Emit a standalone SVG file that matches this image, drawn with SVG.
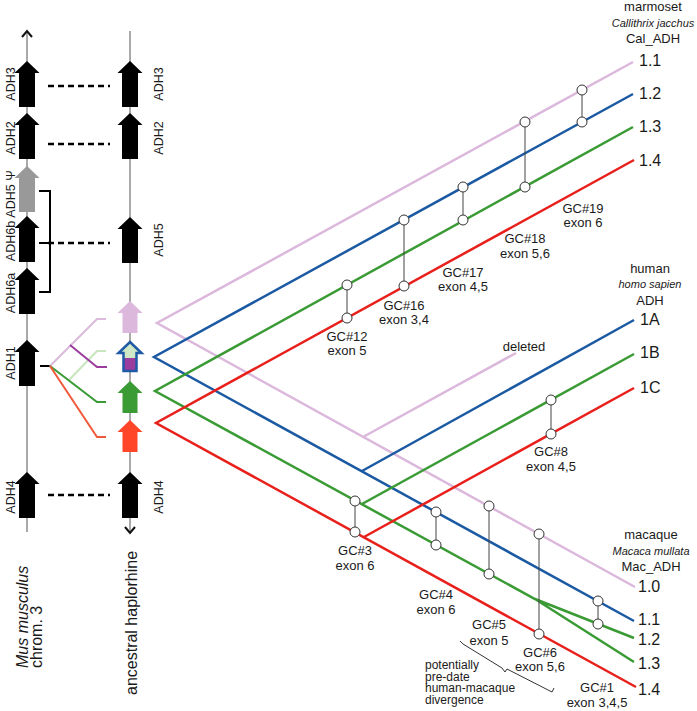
<svg xmlns="http://www.w3.org/2000/svg" width="697" height="711" viewBox="0 0 697 711">
<style>
text{font-family:"Liberation Sans",Arial,sans-serif;fill:#1a1a1a}
.gl{font-size:12.5px;text-anchor:middle}
.lb{font-size:13px;text-anchor:middle}
.num{font-size:16px}
.sp{font-size:11px;font-style:italic;text-anchor:middle}
.big{font-size:16px}
.pd{font-size:12px}
.ln{fill:none;stroke-width:2.5;stroke-linejoin:miter}
.lil{stroke:#dbb8dc}
.blu{stroke:#1b5aa3}
.grn{stroke:#3a9b35}
.red{stroke:#e8201c}
.c{fill:#fff;stroke:#333;stroke-width:1}
.v{stroke:#444;stroke-width:1}
.dash{stroke:#000;stroke-width:2.4;stroke-dasharray:6 4;fill:none}
.chr{stroke:#555;stroke-width:1;fill:none}
.ah{stroke:#111;stroke-width:2;fill:none}
.brk{stroke:#000;stroke-width:2;fill:none}
.sm{fill:none;stroke-width:2}
</style>
<defs>
<path id="ga" d="M0,0 L12.5,12 L8,12 L8,46 L-8,46 L-8,12 L-12.5,12 Z"/>
<path id="sa" d="M0,0 L12.5,12 L7.5,12 L7.5,32 L-7.5,32 L-7.5,12 L-12.5,12 Z"/>
</defs>

<!-- chromosomes -->
<g id="mouse-chrom">
<line class="chr" x1="27" y1="31" x2="27" y2="532"/>
<path class="ah" d="M22,37 L27,31 L32,37"/>
</g>
<g id="ancestral-chrom">
<line class="chr" x1="130" y1="31" x2="130" y2="533"/>
<path class="ah" d="M125,527 L130,533 L135,527"/>
</g>

<!-- connectors -->
<g id="connectors">
<line class="dash" x1="48" y1="86" x2="110" y2="86"/>
<line class="dash" x1="48" y1="144" x2="110" y2="144"/>
<line class="dash" x1="48" y1="243" x2="110" y2="243"/>
<line class="dash" x1="48" y1="495" x2="110" y2="495"/>
<path class="brk" d="M39,191 H50 V292 H39 M39,243 H50"/>
<line x1="40" y1="366" x2="51" y2="366" stroke="#000" stroke-width="2"/>
<path class="sm" stroke="#dbb8dc" d="M50,366 L97,319 L106,319"/>
<path class="sm" stroke="#c8e6bd" d="M69,380 L97,351 L106,351"/>
<path class="sm" stroke="#9a3d9e" d="M70,345 L97,367 L107,367"/>
<path class="sm" stroke="#3a9b35" d="M50,366 L97,402 L106,402"/>
<path class="sm" stroke="#f05a3a" d="M50,366 L97,437 L106,437"/>

<!-- chevrons -->
<path class="ln lil" d="M633,62 L157,323 L635,587"/>
<path class="ln blu" d="M633,94 L154,357 L634,621"/>
<path class="ln grn" d="M633,127 L155,391 L535,599 L634,638 M535,599 L634,662"/>
<path class="ln red" d="M634,160 L156,423 L636,687"/>
<!-- human branches -->
<path class="ln lil" d="M363,437 L516,353"/>
<path class="ln blu" d="M362,471 L634,320"/>
<path class="ln grn" d="M362,504 L634,354"/>
<path class="ln red" d="M364,537 L634,388"/>

<!-- gene conversion links -->
<line class="v" x1="347" y1="290" x2="347" y2="313"/>
<line class="v" x1="404" y1="225" x2="404" y2="281"/>
<line x1="463" y1="192" x2="463" y2="215" stroke="#8a8a8a" stroke-width="1.6"/>
<line class="v" x1="525" y1="127" x2="525" y2="182"/>
<line class="v" x1="582" y1="95" x2="582" y2="117"/>
<line class="v" x1="551" y1="405" x2="551" y2="429"/>
<line class="v" x1="355" y1="506" x2="355" y2="527"/>
<line class="v" x1="436" y1="517" x2="436" y2="540"/>
<line class="v" x1="489" y1="511" x2="489" y2="569"/>
<line class="v" x1="539" y1="539" x2="539" y2="629"/>
<line class="v" x1="598" y1="606" x2="598" y2="619"/>
<circle class="c" cx="347" cy="285" r="5"/><circle class="c" cx="347" cy="318" r="5"/>
<circle class="c" cx="404" cy="220" r="5"/><circle class="c" cx="404" cy="286" r="5"/>
<circle class="c" cx="463" cy="187" r="5"/><circle class="c" cx="463" cy="220" r="5"/>
<circle class="c" cx="525" cy="122" r="5"/><circle class="c" cx="525" cy="187" r="5"/>
<circle class="c" cx="582" cy="90" r="5"/><circle class="c" cx="582" cy="122" r="5"/>
<circle class="c" cx="551" cy="400" r="5"/><circle class="c" cx="551" cy="434" r="5"/>
<circle class="c" cx="355" cy="501" r="5"/><circle class="c" cx="355" cy="532" r="5"/>
<circle class="c" cx="436" cy="512" r="5"/><circle class="c" cx="436" cy="545" r="5"/>
<circle class="c" cx="489" cy="506" r="5"/><circle class="c" cx="489" cy="574" r="5"/>
<circle class="c" cx="539" cy="534" r="5"/><circle class="c" cx="539" cy="634" r="5"/>
<circle class="c" cx="598" cy="601" r="5"/><circle class="c" cx="598" cy="624" r="5"/>
<path d="M460,641 L463,644 L502,668 L505,672 L507,669 L552,692 L554,688" fill="none" stroke="#333" stroke-width="1"/>
</g>

<!-- mouse genes -->
<g id="m-adh3"><use href="#ga" x="27" y="61" fill="#000"/><text class="gl" transform="translate(15,84) rotate(-90)">ADH3</text></g>
<g id="m-adh2"><use href="#ga" x="27" y="113" fill="#000"/><text class="gl" transform="translate(15,138) rotate(-90)">ADH2</text></g>
<g id="m-adh5"><use href="#ga" x="27" y="166" fill="#999"/><text class="gl" font-size="12" transform="translate(15,194) rotate(-90)">ADH5 Ψ</text></g>
<g id="m-adh6b"><use href="#ga" x="27" y="216" fill="#000"/><text class="gl" font-size="12" transform="translate(15,241) rotate(-90)">ADH6b</text></g>
<g id="m-adh6a"><use href="#ga" x="27" y="268" fill="#000"/><text class="gl" font-size="12" transform="translate(15,293) rotate(-90)">ADH6a</text></g>
<g id="m-adh1"><use href="#ga" x="27" y="340" fill="#000"/><text class="gl" transform="translate(15,363) rotate(-90)">ADH1</text></g>
<g id="m-adh4"><use href="#ga" x="27" y="472" fill="#000"/><text class="gl" transform="translate(15,497) rotate(-90)">ADH4</text></g>

<!-- ancestral genes -->
<g id="a-adh3"><use href="#ga" x="130" y="61" fill="#000"/><text class="gl" transform="translate(163,84) rotate(-90)">ADH3</text></g>
<g id="a-adh2"><use href="#ga" x="130" y="113" fill="#000"/><text class="gl" transform="translate(163,138) rotate(-90)">ADH2</text></g>
<g id="a-adh5"><use href="#ga" x="130" y="217" fill="#000"/><text class="gl" transform="translate(163,240) rotate(-90)">ADH5</text></g>
<g id="a-lilac"><use href="#sa" x="130" y="301" fill="#dbb8dc"/></g>
<g id="a-blue">
<path d="M130,342 L141.5,353 L136.5,353 L136.5,371 L123.5,371 L123.5,353 L118.5,353 Z" fill="#cfe9c6"/>
<rect x="123.5" y="358" width="13" height="13" fill="#9a3d9e"/>
<path d="M130,342 L141.5,353 L136.5,353 L136.5,371 L123.5,371 L123.5,353 L118.5,353 Z" fill="none" stroke="#1f5aa6" stroke-width="2.5"/>
</g>
<g id="a-green"><use href="#sa" x="130" y="381" fill="#3a9b35"/></g>
<g id="a-red"><use href="#sa" x="130" y="420" fill="#ff4628"/></g>
<g id="a-adh4"><use href="#ga" x="130" y="472" fill="#000"/><text class="gl" transform="translate(163,497) rotate(-90)">ADH4</text></g>

<!-- column titles -->
<g id="title-mouse">
<text class="big" font-style="italic" transform="translate(28,668) rotate(-90)">Mus musculus</text>
<text class="big" transform="translate(42,668) rotate(-90)">chrom. 3</text>
</g>
<g id="title-ancestral">
<text class="big" transform="translate(137,695) rotate(-90)">ancestral haplorhine</text>
</g>

<!-- species headers -->
<g id="marmoset">
<text class="lb" x="653" y="11">marmoset</text>
<text class="sp" x="653" y="27">Callithrix jacchus</text>
<text class="lb" x="653" y="43">Cal_ADH</text>
<text class="num" x="639" y="66">1.1</text>
<text class="num" x="639" y="99">1.2</text>
<text class="num" x="639" y="132">1.3</text>
<text class="num" x="639" y="166">1.4</text>
</g>
<g id="human">
<text class="lb" x="650" y="273">human</text>
<text class="sp" x="650" y="288">homo sapien</text>
<text class="lb" x="650" y="305">ADH</text>
<text class="num" x="640" y="325">1A</text>
<text class="num" x="640" y="358">1B</text>
<text class="num" x="640" y="393">1C</text>
</g>
<g id="macaque">
<text class="lb" x="651" y="539">macaque</text>
<text class="sp" x="651" y="555">Macaca mullata</text>
<text class="lb" x="651" y="571">Mac_ADH</text>
<text class="num" x="638" y="592">1.0</text>
<text class="num" x="638" y="625">1.1</text>
<text class="num" x="638" y="645">1.2</text>
<text class="num" x="638" y="669">1.3</text>
<text class="num" x="638" y="695">1.4</text>
</g>

<!-- GC labels -->
<g id="gc-labels">
<text class="lb" x="347" y="341">GC#12</text><text class="lb" x="347" y="355">exon 5</text>
<text class="lb" x="404" y="310">GC#16</text><text class="lb" x="404" y="324">exon 3,4</text>
<text class="lb" x="463" y="277">GC#17</text><text class="lb" x="463" y="291">exon 4,5</text>
<text class="lb" x="525" y="243">GC#18</text><text class="lb" x="525" y="258">exon 5,6</text>
<text class="lb" x="583" y="213">GC#19</text><text class="lb" x="583" y="227">exon 6</text>
<text class="lb" x="524" y="351">deleted</text>
<text class="lb" x="551" y="456">GC#8</text><text class="lb" x="551" y="471">exon 4,5</text>
<text class="lb" x="355" y="555">GC#3</text><text class="lb" x="355" y="570">exon 6</text>
<text class="lb" x="436" y="599">GC#4</text><text class="lb" x="436" y="614">exon 6</text>
<text class="lb" x="489" y="629">GC#5</text><text class="lb" x="489" y="645">exon 5</text>
<text class="lb" x="540" y="657">GC#6</text><text class="lb" x="540" y="671">exon 5,6</text>
<text class="lb" x="597" y="692">GC#1</text><text class="lb" x="597" y="707">exon 3,4,5</text>
<text class="pd" x="425" y="669">potentially</text>
<text class="pd" x="425" y="680.5">pre-date</text>
<text class="pd" x="425" y="692">human-macaque</text>
<text class="pd" x="425" y="703.5">divergence</text>
</g>
</svg>
